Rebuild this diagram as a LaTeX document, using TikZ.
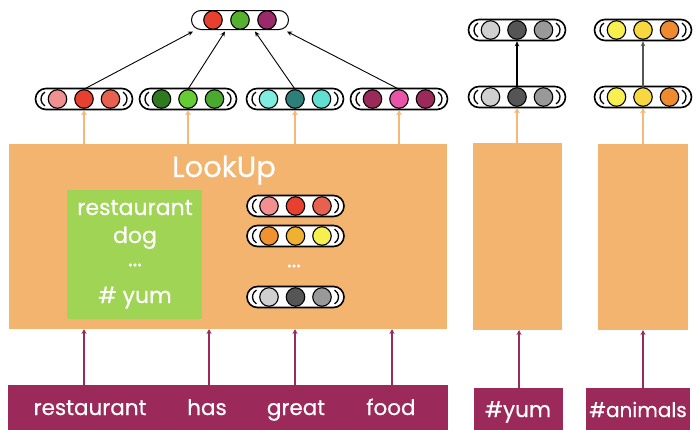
\documentclass[tikz,border=0pt]{standalone}
\usepackage{fontspec}
\setmainfont{Poppins}[FakeBold=0.5]
\usetikzlibrary{arrows.meta}
\definecolor{boxor}{HTML}{F2B46E}
\definecolor{arror}{HTML}{F6B777}
\definecolor{boxgr}{HTML}{A0D455}
\definecolor{maroon}{HTML}{9B2A5A}
\definecolor{rA}{HTML}{F09090}
\definecolor{rB}{HTML}{E8402E}
\definecolor{rC}{HTML}{E86050}
\definecolor{gA}{HTML}{2E7A1E}
\definecolor{gB}{HTML}{66CC33}
\definecolor{gC}{HTML}{4AAA30}
\definecolor{cA}{HTML}{7FEDE0}
\definecolor{cB}{HTML}{2E7F7A}
\definecolor{cC}{HTML}{60E0D0}
\definecolor{pA}{HTML}{9B2A5A}
\definecolor{pB}{HTML}{E855A8}
\definecolor{tG}{HTML}{55B030}
\definecolor{tP}{HTML}{9B2A6A}
\definecolor{oA}{HTML}{F0922E}
\definecolor{oB}{HTML}{F0B030}
\definecolor{oC}{HTML}{F5F050}
\definecolor{kA}{HTML}{D0D0D0}
\definecolor{kB}{HTML}{555555}
\definecolor{kC}{HTML}{999999}
\definecolor{yA}{HTML}{F8F050}
\definecolor{yB}{HTML}{F8D840}
\definecolor{yC}{HTML}{F08A30}
\newcommand\capsule[7]{%
  \node[caps] (#1) at (#2,#3) {};
  \draw[line width=1.3pt] ([xshift=-39pt,yshift=6.93pt]#1.center) arc[start angle=120,end angle=240,radius=8pt];
  \draw[line width=1.3pt] ([xshift=39pt,yshift=-6.93pt]#1.center) arc[start angle=-60,end angle=60,radius=8pt];
  \node[dot,fill=#6] (#1-2) at (#2,#3) {};
  \node[dot,fill=#5] (#1-1) at ([xshift=-#4pt]#1.center) {};
  \node[dot,fill=#7] (#1-3) at ([xshift=#4pt]#1.center) {};
}
\begin{document}
\begin{tikzpicture}[x=1pt,y=-1pt,
  caps/.style={draw=black, line width=1.6pt, fill=white, rounded corners=10.5pt, minimum width=97pt, minimum height=21pt, inner sep=0pt},
  topcaps/.style={draw=black, line width=1pt, fill=white, rounded corners=9.5pt, minimum width=97pt, minimum height=19pt, inner sep=0pt},
  dot/.style={circle, draw=black, line width=1.1pt, minimum size=18.5pt, inner sep=0pt},
  plate/.style={rectangle, inner sep=0pt, outer sep=0pt},
  lbl/.style={text=white, font=\fontsize{22}{22}\selectfont, inner sep=0pt},
  wlbl/.style={text=white, font=\fontsize{21.5}{21.5}\selectfont, inner sep=0pt},
  oarrow/.style={draw=arror, line width=1.8pt, -{Stealth[length=5pt,width=6pt]}},
  marrow/.style={draw=maroon, line width=1.3pt, -{Stealth[length=5pt,width=5pt]}},
  barrow/.style={draw=black, line width=0.9pt, -{Stealth[length=5pt,width=4.5pt]}},
]
\useasboundingbox (0,0) rectangle (696,429);

% orange plates
\node[plate, fill=boxor, minimum width=438pt, minimum height=185pt] (lookup) at (228,236.5) {};
\node[plate, fill=boxor, minimum width=89pt, minimum height=187pt] (rb1) at (517.5,236.5) {};
\node[plate, fill=boxor, minimum width=90pt, minimum height=186pt] (rb2) at (643,237) {};
\node[text=white, font=\fontsize{29}{29}\selectfont, inner sep=0pt, anchor=base] (lkl) at (224,177) {LookUp};

% green vocabulary box
\node[plate, fill=boxgr, minimum width=135pt, minimum height=129pt] (vocab) at (134.5,254.5) {};
\node[lbl, anchor=base] (v1) at (135,215) {restaurant};
\node[lbl, anchor=base] (v2) at (135,243) {dog};
\node[lbl] (v3) at (135,265) {...};
\node[lbl, anchor=base] (v4) at (135,303) {\# yum};

% lookup table vectors
\capsule{l1}{295.5}{206}{26.5}{rA}{rB}{rC}
\capsule{l2}{295.5}{236}{26.5}{oA}{oB}{oC}
\node[lbl] (l3) at (294,266) {...};
\capsule{l4}{295.5}{297}{26.5}{kA}{kB}{kC}

% word vectors
\capsule{c1}{84}{99}{26.5}{rA}{rB}{rC}
\capsule{c2}{188}{99}{26.5}{gA}{gB}{gC}
\capsule{c3}{295}{99}{26.5}{cA}{cB}{cC}
\capsule{c4}{399}{99}{26.5}{pA}{pB}{pA}

% top (averaged) vector
\node[topcaps] (top) at (240,20) {};
\node[dot, fill=tG] (top-2) at (240,20) {};
\node[dot, fill=rB] (top-1) at (213,20) {};
\node[dot, fill=tP] (top-3) at (267,20) {};

% hashtag vectors
\capsule{g1}{517}{97}{26.5}{kA}{kB}{kC}
\capsule{g2}{517}{30}{26.5}{kA}{kB}{kC}
\capsule{h1}{643}{97}{26.5}{yA}{yB}{yC}
\capsule{h2}{643}{30}{26.5}{yA}{yB}{yC}

% maroon inputs
\node[plate, fill=maroon, minimum width=440pt, minimum height=46pt] (words) at (228,408) {};
\node[wlbl, anchor=base] (w1) at (90,415) {restaurant};
\node[wlbl, anchor=base] (w2) at (207,415) {has};
\node[wlbl, anchor=base] (w3) at (296,415) {great};
\node[wlbl, anchor=base] (w4) at (391,415) {food};
\node[plate, fill=maroon, minimum width=89pt, minimum height=43pt] (hy) at (518.5,409.5) {};
\node[wlbl, anchor=base] (hyl) at (518,417) {\#yum};
\node[plate, fill=maroon, minimum width=104pt, minimum height=43pt] (ha) at (638,409.5) {};
\node[wlbl, anchor=base, font=\fontsize{20}{20}\selectfont] (hal) at (638,417) {\#animals};

% arrow x positions
\coordinate (m1) at (84,0);
\coordinate (m2) at (209,0);
\coordinate (m3) at (295,0);
\coordinate (m4) at (392,0);
\coordinate (m5) at (519,0);
\coordinate (m6) at (643,0);
\coordinate (t1) at (193,0);
\coordinate (t2) at (225,0);
\coordinate (t3) at (255,0);
\coordinate (t4) at (287,0);

% maroon arrows
\draw[marrow] (words.north -| m1) -- (lookup.south -| m1);
\draw[marrow] (words.north -| m2) -- (lookup.south -| m2);
\draw[marrow] (words.north -| m3) -- (lookup.south -| m3);
\draw[marrow] (words.north -| m4) -- (lookup.south -| m4);
\draw[marrow] (hy.north -| m5) -- (rb1.south -| m5);
\draw[marrow] (ha.north -| m6) -- (rb2.south -| m6);

% orange arrows
\draw[oarrow] (lookup.north -| c1) -- (c1.south);
\draw[oarrow] (lookup.north -| c2) -- (c2.south);
\draw[oarrow] (lookup.north -| c3) -- (c3.south);
\draw[oarrow] (lookup.north -| c4) -- (c4.south);
\draw[oarrow] (rb1.north -| g1) -- (g1.south);
\draw[oarrow] (rb2.north -| h1) -- (h1.south);

% black arrows
\draw[barrow] (c1-2.north) -- ([yshift=-1.5pt]top.south -| t1);
\draw[barrow] (c2-2.north) -- ([yshift=-1.5pt]top.south -| t2);
\draw[barrow] (c3-2.north) -- ([yshift=-1.5pt]top.south -| t3);
\draw[barrow] (c4-2.north) -- ([yshift=-1.5pt]top.south -| t4);
\draw[barrow, line width=1.5pt] (g1-2.north) -- (g2.south);
\draw[barrow, draw=kB, line width=1.1pt] (h1-2.north) -- (h2.south);
\end{tikzpicture}
\end{document}
